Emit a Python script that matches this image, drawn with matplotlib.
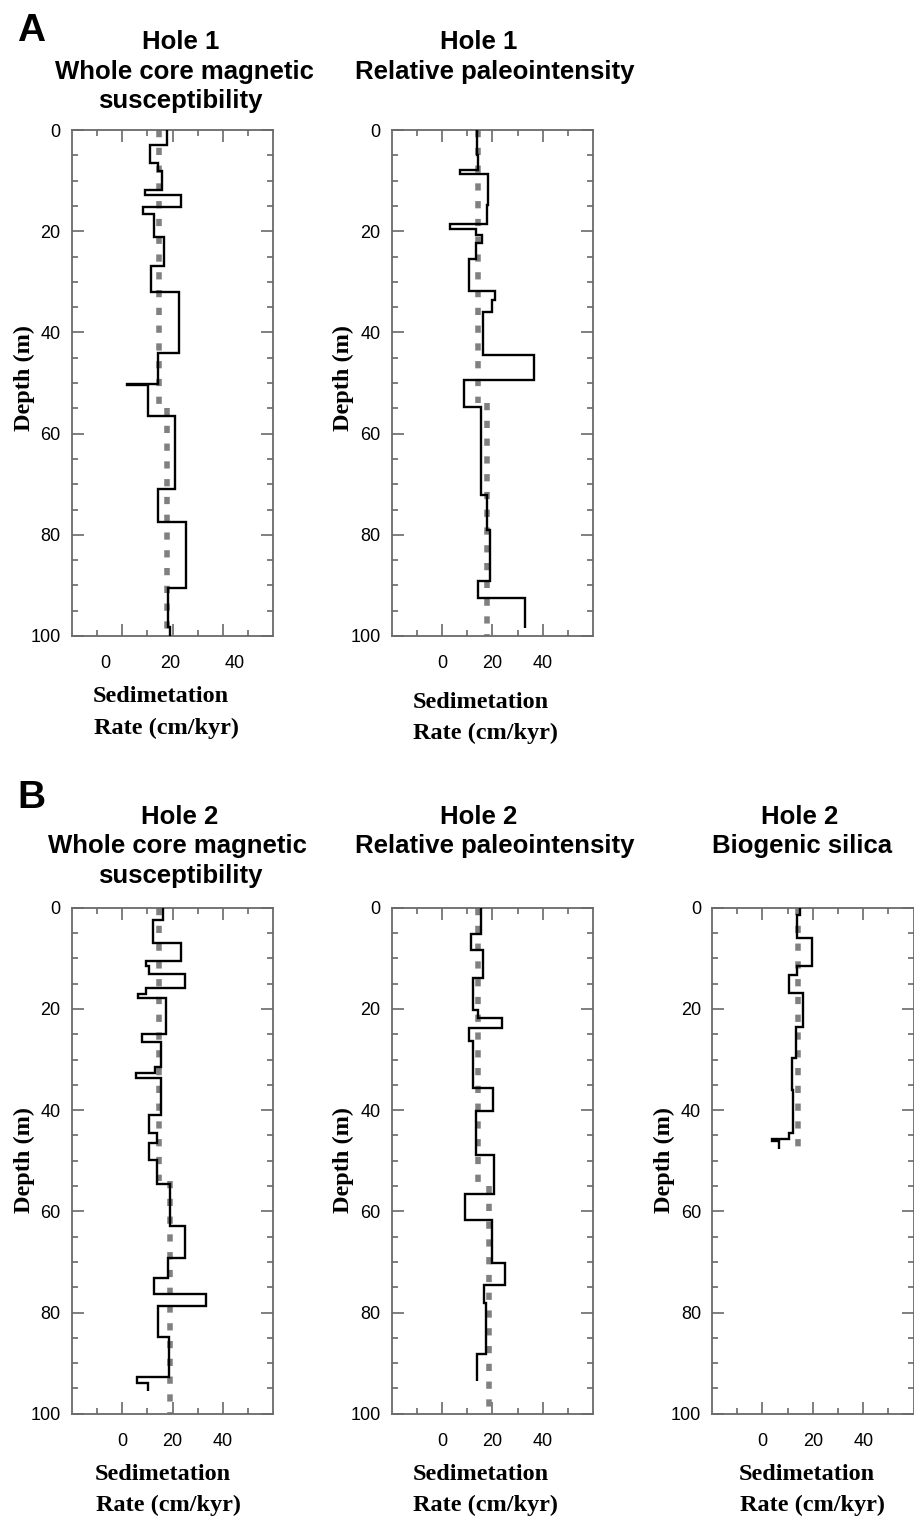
import matplotlib
matplotlib.use("Agg")
import matplotlib.pyplot as plt
from matplotlib.ticker import MultipleLocator, FixedLocator

# ---- sedimentation-rate step profiles (depth edges in m, rates in cm/kyr) ----
h1_ms_depth = [0, 3.0, 6.6, 8.2, 11.9, 12.8, 15.3, 16.6, 21.2, 26.8, 32.0, 44.1,
               50.1, 50.4, 56.6, 71.0, 77.4, 90.6, 98.2, 100]
h1_ms_rate = [18.8, 13.6, 16.2, 17.4, 12.3, 23.3, 11.6, 14.9, 17.9, 14.1, 22.6,
              16.1, 6.5, 13.0, 21.3, 16.1, 24.9, 19.2, 20.0]
h1_ms_mean_depth = [0, 55, 100]
h1_ms_mean_rate = [16.4, 18.8]

h1_rpi_depth = [0, 4.9, 7.9, 8.6, 14.8, 18.6, 19.6, 20.8, 22.4, 25.4, 31.9, 33.6,
                35.9, 44.5, 49.4, 54.8, 72.1, 79.0, 89.2, 92.5, 98.4]
h1_rpi_rate = [13.7, 14.3, 7.1, 18.4, 17.8, 3.1, 13.5, 15.7, 13.5, 10.8, 21.0,
               19.7, 16.1, 36.6, 8.8, 15.4, 17.9, 19.0, 14.4, 32.9]
h1_rpi_mean_depth = [0, 54, 100]
h1_rpi_mean_rate = [14.4, 17.8]

h2_ms_depth = [0, 2.4, 7.0, 10.5, 11.5, 13.1, 15.9, 17.1, 17.9, 25.0, 26.5, 31.4,
               32.7, 33.6, 40.9, 44.6, 46.6, 49.8, 54.6, 63.0, 69.3, 73.2, 76.3,
               78.8, 84.9, 92.8, 93.9, 95.5]
h2_ms_rate = [16.1, 12.4, 23.2, 9.5, 10.8, 24.9, 9.3, 6.3, 17.4, 7.7, 15.3, 12.9,
              5.5, 15.3, 10.5, 13.7, 10.6, 13.9, 19.0, 24.9, 18.4, 12.7, 33.3,
              14.4, 18.7, 5.9, 10.4]
h2_ms_mean_depth = [0, 54, 100]
h2_ms_mean_rate = [14.6, 19.0]

h2_rpi_depth = [0, 5.1, 8.4, 13.9, 20.2, 21.8, 23.7, 26.3, 35.6, 40.2, 48.8, 56.6,
                61.7, 70.2, 74.5, 78.1, 88.2, 93.6]
h2_rpi_rate = [15.3, 11.3, 16.4, 12.4, 14.4, 23.6, 10.8, 12.2, 20.1, 13.5, 20.6,
               9.1, 19.8, 24.9, 16.6, 17.4, 13.9]
h2_rpi_mean_depth = [0, 55, 100]
h2_rpi_mean_rate = [14.4, 18.7]

h2_bsi_depth = [0, 1.5, 6.0, 11.5, 13.3, 16.9, 23.5, 29.7, 36.0, 44.6, 45.8,
                46.1, 47.6]
h2_bsi_rate = [14.8, 13.6, 19.7, 13.6, 10.7, 16.2, 13.3, 11.7, 12.2, 10.5, 3.8,
               6.4]
h2_bsi_mean_depth = [0, 48]
h2_bsi_mean_rate = [14.3]

# ---- text ----
panel_titles = {
    "A1": ["Hole 1", "Whole core magnetic", "susceptibility"],
    "A2": ["Hole 1", "Relative paleointensity"],
    "B1": ["Hole 2", "Whole core magnetic", "susceptibility"],
    "B2": ["Hole 2", "Relative paleointensity"],
    "B3": ["Hole 2", "Biogenic silica"],
}
rate_ticks = [0, 20, 40]
depth_ticks = [0, 20, 40, 60, 80, 100]

W, H = 914, 1518
fig = plt.figure(figsize=(W / 100, H / 100), dpi=100)
fig.patch.set_facecolor("white")

SANS = ["Liberation Sans", "DejaVu Sans"]
SERIF = ["Liberation Serif", "DejaVu Serif"]
FRAME = "#6a6a6a"


def fx(x):
    return x / W


def fy(y):
    return 1 - y / H


def make_axes(left, top):
    width, height = 201.6, 506.0
    return fig.add_axes([fx(left), fy(top + height), width / W, height / H])


def style(ax, xlim, shifted_labels=False):
    ax.set_ylim(100, 0)
    ax.set_xlim(*xlim)
    for s in ax.spines.values():
        s.set_color(FRAME)
        s.set_linewidth(1.3)
    ax.yaxis.set_major_locator(FixedLocator(depth_ticks))
    ax.yaxis.set_minor_locator(MultipleLocator(5))
    ax.tick_params(axis="y", which="major", direction="in", length=8.5,
                   width=1.2, color=FRAME, left=True, right=True, pad=8,
                   labelsize=13)
    ax.tick_params(axis="y", which="minor", direction="in", length=4.5,
                   width=1.2, color=FRAME, left=True, right=True)
    x0, x1 = xlim
    step = (x1 - x0) / 8
    marks = [x0 + k * step for k in range(1, 8)]
    if shifted_labels:
        # tick marks follow the frame grid; labels use their own positions
        ax.xaxis.set_major_locator(FixedLocator(marks[1::2]))
        ax.xaxis.set_minor_locator(FixedLocator(marks[0::2]))
        ax.set_xticklabels([])
        lab = ax.secondary_xaxis("bottom")
        lab.set_xticks(rate_ticks)
        lab.tick_params(length=0, pad=14, labelsize=13)
        lab.spines["bottom"].set_visible(False)
        for t in lab.get_xticklabels():
            t.set_family(SANS)
    else:
        ax.xaxis.set_major_locator(FixedLocator(rate_ticks))
        ax.xaxis.set_minor_locator(FixedLocator([-10, 10, 30, 50]))
    ax.tick_params(axis="x", which="major", direction="in", length=8.5,
                   width=1.2, color=FRAME, bottom=True, top=True, pad=14,
                   labelsize=13)
    ax.tick_params(axis="x", which="minor", direction="in", length=4.5,
                   width=1.2, color=FRAME, bottom=True, top=True)
    for t in ax.get_xticklabels() + ax.get_yticklabels():
        t.set_family(SANS)


def draw(ax, depth, rate, mdepth, mrate):
    ax.vlines(mrate, mdepth[:-1], mdepth[1:], colors="#808080", linewidth=4.0,
              linestyles=[(0, (1.3, 1.9))], capstyle="butt", zorder=2)
    ax.stairs(rate, depth, orientation="horizontal", baseline=None,
              color="black", linewidth=1.7, zorder=3)


def titles(lines, centers, y0):
    for i, (line, cx) in enumerate(zip(lines, centers)):
        fig.text(fx(cx), fy(y0 + 29.5 * i), line, ha="center", va="center",
                 fontsize=18.5, fontweight="bold", family=SANS)


def labels(cx_rate, y_rate, cx_depth, cy_depth):
    fig.text(fx(cx_rate - 5), fy(y_rate), "Sedimetation", ha="center",
             va="center", fontsize=17.5, fontweight="bold", family=SERIF)
    fig.text(fx(cx_rate), fy(y_rate + 31), "Rate (cm/kyr)", ha="center",
             va="center", fontsize=17.5, fontweight="bold", family=SERIF)
    fig.text(fx(cx_depth), fy(cy_depth), "Depth (m)", ha="center",
             va="center", rotation=90, fontsize=17.5, fontweight="bold",
             family=SERIF)


# Panel A
axA1 = make_axes(71.7, 130)
style(axA1, (-10.5, 51.8), shifted_labels=True)
draw(axA1, h1_ms_depth, h1_ms_rate, h1_ms_mean_depth, h1_ms_mean_rate)

axA2 = make_axes(391.7, 130)
style(axA2, (-20, 60))
draw(axA2, h1_rpi_depth, h1_rpi_rate, h1_rpi_mean_depth, h1_rpi_mean_rate)

# Panel B
axB1 = make_axes(71.7, 907.7)
style(axB1, (-20, 60))
draw(axB1, h2_ms_depth, h2_ms_rate, h2_ms_mean_depth, h2_ms_mean_rate)

axB2 = make_axes(391.7, 907.7)
style(axB2, (-20, 60))
draw(axB2, h2_rpi_depth, h2_rpi_rate, h2_rpi_mean_depth, h2_rpi_mean_rate)

axB3 = make_axes(712.0, 907.7)
style(axB3, (-20, 60))
draw(axB3, h2_bsi_depth, h2_bsi_rate, h2_bsi_mean_depth, h2_bsi_mean_rate)

titles(panel_titles["A1"], [181, 184, 180], 42)
titles(panel_titles["A2"], [479, 495], 42)
titles(panel_titles["B1"], [180, 177, 180], 817)
titles(panel_titles["B2"], [479, 495], 817)
titles(panel_titles["B3"], [800, 802], 817)

labels(166, 697, 24, 378)
labels(486, 702, 343, 378)
labels(168, 1474, 24, 1160)
labels(486, 1474, 343, 1160)
labels(812, 1474, 664, 1160)

fig.text(fx(31), fy(31), "A", ha="center", va="center", fontsize=28,
         fontweight="bold", family=SANS)
fig.text(fx(31), fy(798), "B", ha="center", va="center", fontsize=28,
         fontweight="bold", family=SANS)

fig.savefig("out.png", dpi=100, facecolor="white")
